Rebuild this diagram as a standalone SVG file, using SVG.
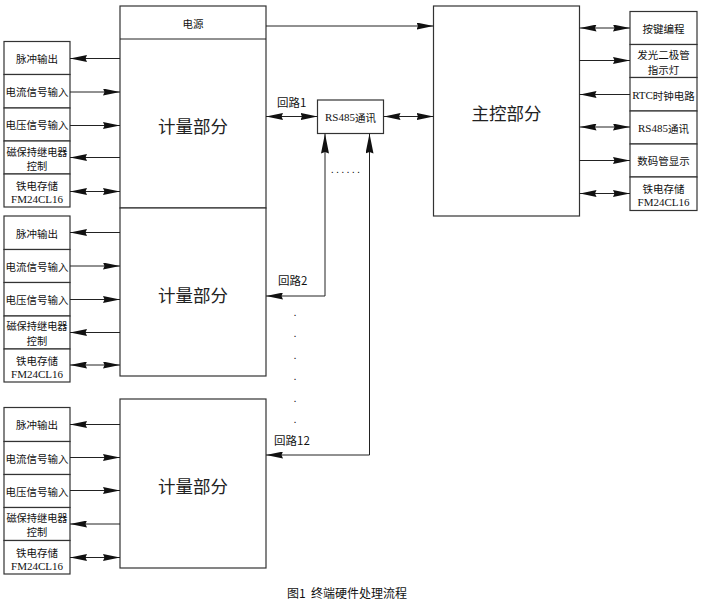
<svg xmlns="http://www.w3.org/2000/svg" width="701" height="599" viewBox="0 0 701 599">
<defs>
<marker id="ah" viewBox="0 0 17 7" refX="17" refY="3.5" markerWidth="17" markerHeight="7" markerUnits="userSpaceOnUse" orient="auto-start-reverse"><path d="M0,0 L17,3.5 L0,7 L1.5,3.5 z" fill="#111"/></marker>
<marker id="ahv" viewBox="0 0 20 8" refX="20" refY="4" markerWidth="20" markerHeight="8" markerUnits="userSpaceOnUse" orient="auto-start-reverse"><path d="M0,0 L20,4 L0,8 L1.5,4 z" fill="#111"/></marker>
<style>
.box{fill:#fff;stroke:#333;stroke-width:1.2}
.ln{fill:none;stroke:#222;stroke-width:1}
.e{marker-end:url(#ah)}
.s{marker-start:url(#ah)}
.t{font-family:"Noto Sans CJK SC","Liberation Sans",sans-serif;font-size:10.5px;fill:#111;text-anchor:middle;dominant-baseline:central}
.t2{font-family:"Noto Sans CJK SC","Liberation Sans",sans-serif;font-size:10.2px;fill:#111;text-anchor:middle;dominant-baseline:central}
.m{font-family:"Liberation Serif","Noto Sans CJK SC",serif;font-size:11px;fill:#111;text-anchor:middle;dominant-baseline:central}
.big{font-family:"Noto Sans CJK SC","Liberation Sans",sans-serif;font-size:17.5px;fill:#222;text-anchor:middle;dominant-baseline:central}
.lbl{font-family:"Noto Sans CJK SC","Liberation Sans",sans-serif;font-size:11.5px;fill:#111;dominant-baseline:central}
.dot{font-family:"Liberation Sans",sans-serif;font-size:11px;fill:#111;text-anchor:middle}
</style>
</defs>
<rect width="701" height="599" fill="#fff"/>

<g id="meter1">
<rect class="box" x="120" y="6" width="146" height="202"/>
<line class="ln" x1="120" y1="39" x2="266" y2="39" stroke="#333"/>
<text class="t" x="193" y="23">电源</text>
<text class="big" x="193" y="125">计量部分</text>
</g>
<g id="meter2">
<rect class="box" x="120" y="208" width="146" height="168"/>
<text class="big" x="193" y="294">计量部分</text>
</g>
<g id="meter3">
<rect class="box" x="120" y="399" width="146" height="169"/>
<text class="big" x="193" y="485">计量部分</text>
</g>

<g id="left1">
<rect class="box" x="4" y="41.5" width="66" height="33"/><text class="t" x="37" y="58">脉冲输出</text>
<rect class="box" x="4" y="74.5" width="66" height="33.5"/><text class="t" x="37" y="91">电流信号输入</text>
<rect class="box" x="4" y="108" width="66" height="33"/><text class="t" x="37" y="124.5">电压信号输入</text>
<rect class="box" x="4" y="141" width="66" height="33"/><text class="t2" x="37" y="151">磁保持继电器</text><text class="t2" x="37" y="165.5">控制</text>
<rect class="box" x="4" y="174" width="66" height="33"/><text class="t" x="37" y="185">铁电存储</text><text class="m" x="37" y="199">FM24CL16</text>
</g>
<g id="left2">
<rect class="box" x="4" y="216" width="66" height="33.5"/><text class="t" x="37" y="233">脉冲输出</text>
<rect class="box" x="4" y="249.5" width="66" height="33"/><text class="t" x="37" y="266">电流信号输入</text>
<rect class="box" x="4" y="282.5" width="66" height="33.5"/><text class="t" x="37" y="299">电压信号输入</text>
<rect class="box" x="4" y="316" width="66" height="33"/><text class="t2" x="37" y="325.5">磁保持继电器</text><text class="t2" x="37" y="340">控制</text>
<rect class="box" x="4" y="349" width="66" height="33"/><text class="t" x="37" y="360">铁电存储</text><text class="m" x="37" y="374">FM24CL16</text>
</g>
<g id="left3">
<rect class="box" x="4" y="407.5" width="66" height="34"/><text class="t" x="37" y="424.5">脉冲输出</text>
<rect class="box" x="4" y="441.5" width="66" height="33"/><text class="t" x="37" y="458">电流信号输入</text>
<rect class="box" x="4" y="474.5" width="66" height="33"/><text class="t" x="37" y="491">电压信号输入</text>
<rect class="box" x="4" y="507.5" width="66" height="33"/><text class="t2" x="37" y="517">磁保持继电器</text><text class="t2" x="37" y="531.5">控制</text>
<rect class="box" x="4" y="540.5" width="66" height="33.5"/><text class="t" x="37" y="552.5">铁电存储</text><text class="m" x="37" y="566">FM24CL16</text>
</g>

<g id="main">
<rect class="box" x="433.5" y="6" width="146" height="210"/>
<text class="big" x="506.5" y="112">主控部分</text>
</g>

<g id="right">
<rect class="box" x="630" y="11.5" width="67" height="33"/><text class="t" x="663.5" y="28">按键编程</text>
<rect class="box" x="630" y="44.5" width="67" height="33"/><text class="t" x="663.5" y="54">发光二极管</text><text class="t" x="663.5" y="69">指示灯</text>
<rect class="box" x="630" y="77.5" width="67" height="33.5"/><text class="m" x="663.5" y="94.5">RTC<tspan font-family="Noto Sans CJK SC" font-size="10.5px">时钟电路</tspan></text>
<rect class="box" x="630" y="111" width="67" height="33"/><text class="m" x="663.5" y="127.5">RS485<tspan font-family="Noto Sans CJK SC" font-size="10.5px">通讯</tspan></text>
<rect class="box" x="630" y="144" width="67" height="33"/><text class="t" x="663.5" y="160.5">数码管显示</text>
<rect class="box" x="630" y="177" width="67" height="33.5"/><text class="t" x="663.5" y="188">铁电存储</text><text class="m" x="663.5" y="202">FM24CL16</text>
</g>

<g id="rs485">
<rect class="box" x="317.5" y="100" width="66" height="33.5"/>
<text class="m" x="350.5" y="117">RS485<tspan font-family="Noto Sans CJK SC" font-size="10.5px">通讯</tspan></text>
</g>

<g id="connectors">
<line class="ln e" x1="120" y1="58.5" x2="70" y2="58.5"/>
<line class="ln e" x1="70" y1="92" x2="120" y2="92"/>
<line class="ln e" x1="70" y1="125.5" x2="120" y2="125.5"/>
<line class="ln e" x1="120" y1="157.5" x2="70" y2="157.5"/>
<line class="ln s e" x1="70" y1="191.5" x2="120" y2="191.5"/>
<line class="ln e" x1="120" y1="232.5" x2="70" y2="232.5"/>
<line class="ln e" x1="70" y1="266" x2="120" y2="266"/>
<line class="ln e" x1="70" y1="299.5" x2="120" y2="299.5"/>
<line class="ln e" x1="120" y1="332.5" x2="70" y2="332.5"/>
<line class="ln s e" x1="70" y1="365" x2="120" y2="365"/>
<line class="ln e" x1="120" y1="424.5" x2="70" y2="424.5"/>
<line class="ln e" x1="70" y1="457.5" x2="120" y2="457.5"/>
<line class="ln e" x1="70" y1="490.5" x2="120" y2="490.5"/>
<line class="ln e" x1="120" y1="524" x2="70" y2="524"/>
<line class="ln s e" x1="70" y1="557.5" x2="120" y2="557.5"/>
<line class="ln e" x1="266" y1="26" x2="433.5" y2="26"/>
<line class="ln s e" x1="266" y1="116.5" x2="317.5" y2="116.5"/>
<line class="ln s e" x1="383.5" y1="116.5" x2="433.5" y2="116.5"/>
<path class="ln s" d="M266,296 H325 V133.5" marker-end="url(#ahv)"/>
<path class="ln s" d="M266,455 H369.5 V133.5" marker-end="url(#ahv)"/>
<line class="ln s e" x1="579.5" y1="28" x2="630" y2="28"/>
<line class="ln e" x1="579.5" y1="60.5" x2="630" y2="60.5"/>
<line class="ln e" x1="630" y1="94.5" x2="579.5" y2="94.5"/>
<line class="ln s e" x1="579.5" y1="127" x2="630" y2="127"/>
<line class="ln e" x1="579.5" y1="160.5" x2="630" y2="160.5"/>
<line class="ln s e" x1="579.5" y1="193.5" x2="630" y2="193.5"/>
</g>

<g id="labels">
<text class="lbl" x="277" y="102">回路1</text>
<text class="lbl" x="278" y="280">回路2</text>
<text class="lbl" x="274" y="440">回路12</text>
<text class="dot" x="346.5" y="173" letter-spacing="2.2">......</text>
<text class="dot" x="295" y="316">.</text>
<text class="dot" x="295" y="337">.</text>
<text class="dot" x="295" y="358.5">.</text>
<text class="dot" x="295" y="380">.</text>
<text class="dot" x="295" y="401.5">.</text>
<text class="dot" x="295" y="423">.</text>
</g>

<text x="347" y="592" font-family="Noto Sans CJK SC, Liberation Sans, sans-serif" font-size="12px" fill="#111" text-anchor="middle" dominant-baseline="central" xml:space="preserve">图1  终端硬件处理流程</text>
</svg>
